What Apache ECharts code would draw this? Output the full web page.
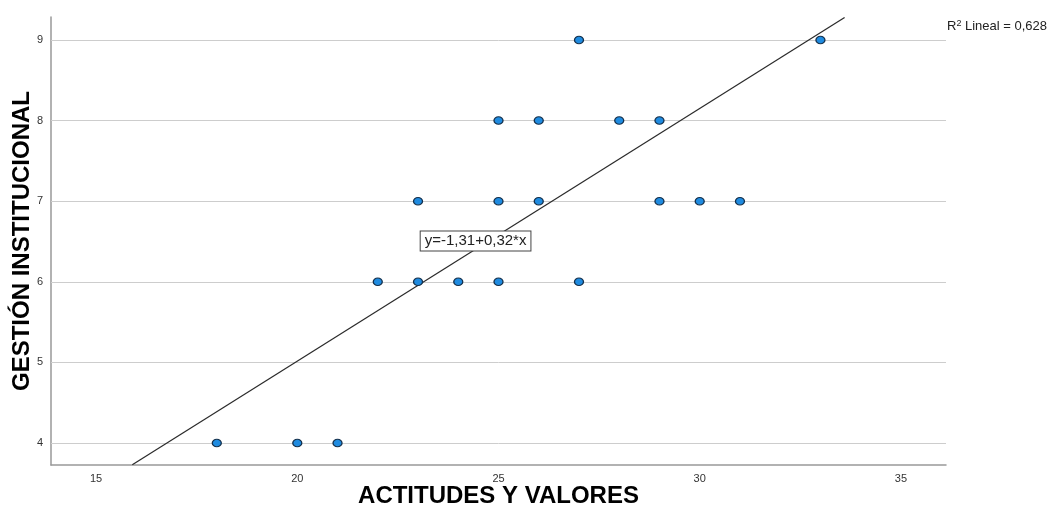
<!DOCTYPE html>
<html><head><meta charset="utf-8">
<script src="https://cdn.jsdelivr.net/npm/echarts@6/dist/echarts.min.js"></script>
<style>html,body{margin:0;padding:0;background:#fff}#c{width:1051px;height:511px}</style>
</head><body><div id="c"></div>
<script>
// Data
const actitudes = [18,20,21,22,23,24,25,27,23,25,26,29,30,31,25,26,28,29,27,33];
const gestion   = [4, 4, 4, 6, 6, 6, 6, 6, 7, 7, 7, 7, 7, 7, 8, 8, 8, 8, 9, 9];
const xTicks = [15,20,25,30,35];
const yTicks = [4,5,6,7,8,9];
const fitX = [15.9, 33.6];
const fitY = [3.73, 9.28];
const fitLabel = 'y=-1,31+0,32*x';
const fitLabelAt = [24.43, 6.505];
const r2Text = 'Lineal = 0,628';
const xName = 'ACTITUDES Y VALORES';
const yName = 'GESTIÓN INSTITUCIONAL';

const FONT = '"Liberation Sans", Arial, sans-serif';
const chart = echarts.init(document.getElementById('c'), null, {renderer:'canvas'});
const points = actitudes.map((x,i)=>[x, gestion[i]]);
const fitLine = fitX.map((x,i)=>[x, fitY[i]]);

chart.setOption({
  animation:false,
  backgroundColor:'#fff',
  grid:{left:51, right:105, top:17, bottom:46, containLabel:false, outerBoundsMode:'none'},
  xAxis:{
    type:'value', min:13.88, max:36.12,
    axisLine:{show:true, onZero:false, lineStyle:{color:'#999', width:1.5}},
    axisTick:{show:false},
    splitLine:{show:false},
    axisLabel:{customValues:xTicks, margin:8, fontSize:11, color:'#333', fontFamily:FONT},
    name:xName, nameLocation:'middle', nameGap:19, nameMoveOverlap:false,
    nameTextStyle:{fontSize:24, fontWeight:'bold', color:'#000', fontFamily:FONT}
  },
  yAxis:{
    type:'value', min:3.727, max:9.285,
    axisLine:{show:true, onZero:false, lineStyle:{color:'#999', width:1.5}},
    axisTick:{show:false},
    splitLine:{show:false},
    axisLabel:{customValues:yTicks, margin:8, fontSize:11, color:'#333', fontFamily:FONT},
    name:yName, nameLocation:'middle', nameGap:17, nameMoveOverlap:false,
    nameTextStyle:{fontSize:24, fontWeight:'bold', color:'#000', fontFamily:FONT}
  },
  series:[
    {
      type:'line', data:[], z:1, silent:true,
      markLine:{
        z:1, silent:true, symbol:'none', animation:false,
        label:{show:false},
        lineStyle:{color:'#cdcdcd', width:1, type:'solid'},
        data:yTicks.map(v=>({yAxis:v}))
      }
    },
    {
      type:'line', data:fitLine, z:2, silent:true, showSymbol:false, symbol:'none',
      lineStyle:{color:'#2a2a2a', width:1.2},
      markPoint:{
        z:4, silent:true, symbol:'rect', symbolSize:0,
        data:[{coord:fitLabelAt}],
        label:{show:true, position:'inside', formatter:fitLabel, fontSize:15, color:'#222',
          fontFamily:FONT, backgroundColor:'#fff', borderColor:'#444', borderWidth:1, padding:[2,4]}
      }
    },
    {
      type:'scatter', data:points, z:3, symbol:'circle', symbolSize:[9,7.5],
      itemStyle:{color:'#1f8be0', borderColor:'#14304c', borderWidth:1.2, opacity:1}
    }
  ],
  graphic:[{
    type:'text', left:947, top:19,
    style:{
      text:'R{sup|2} ' + r2Text,
      font:'13px ' + FONT, fill:'#222',
      rich:{sup:{fontSize:9, fill:'#222', padding:[0,0,6,0], fontFamily:FONT}}
    }
  }]
});
</script></body></html>
